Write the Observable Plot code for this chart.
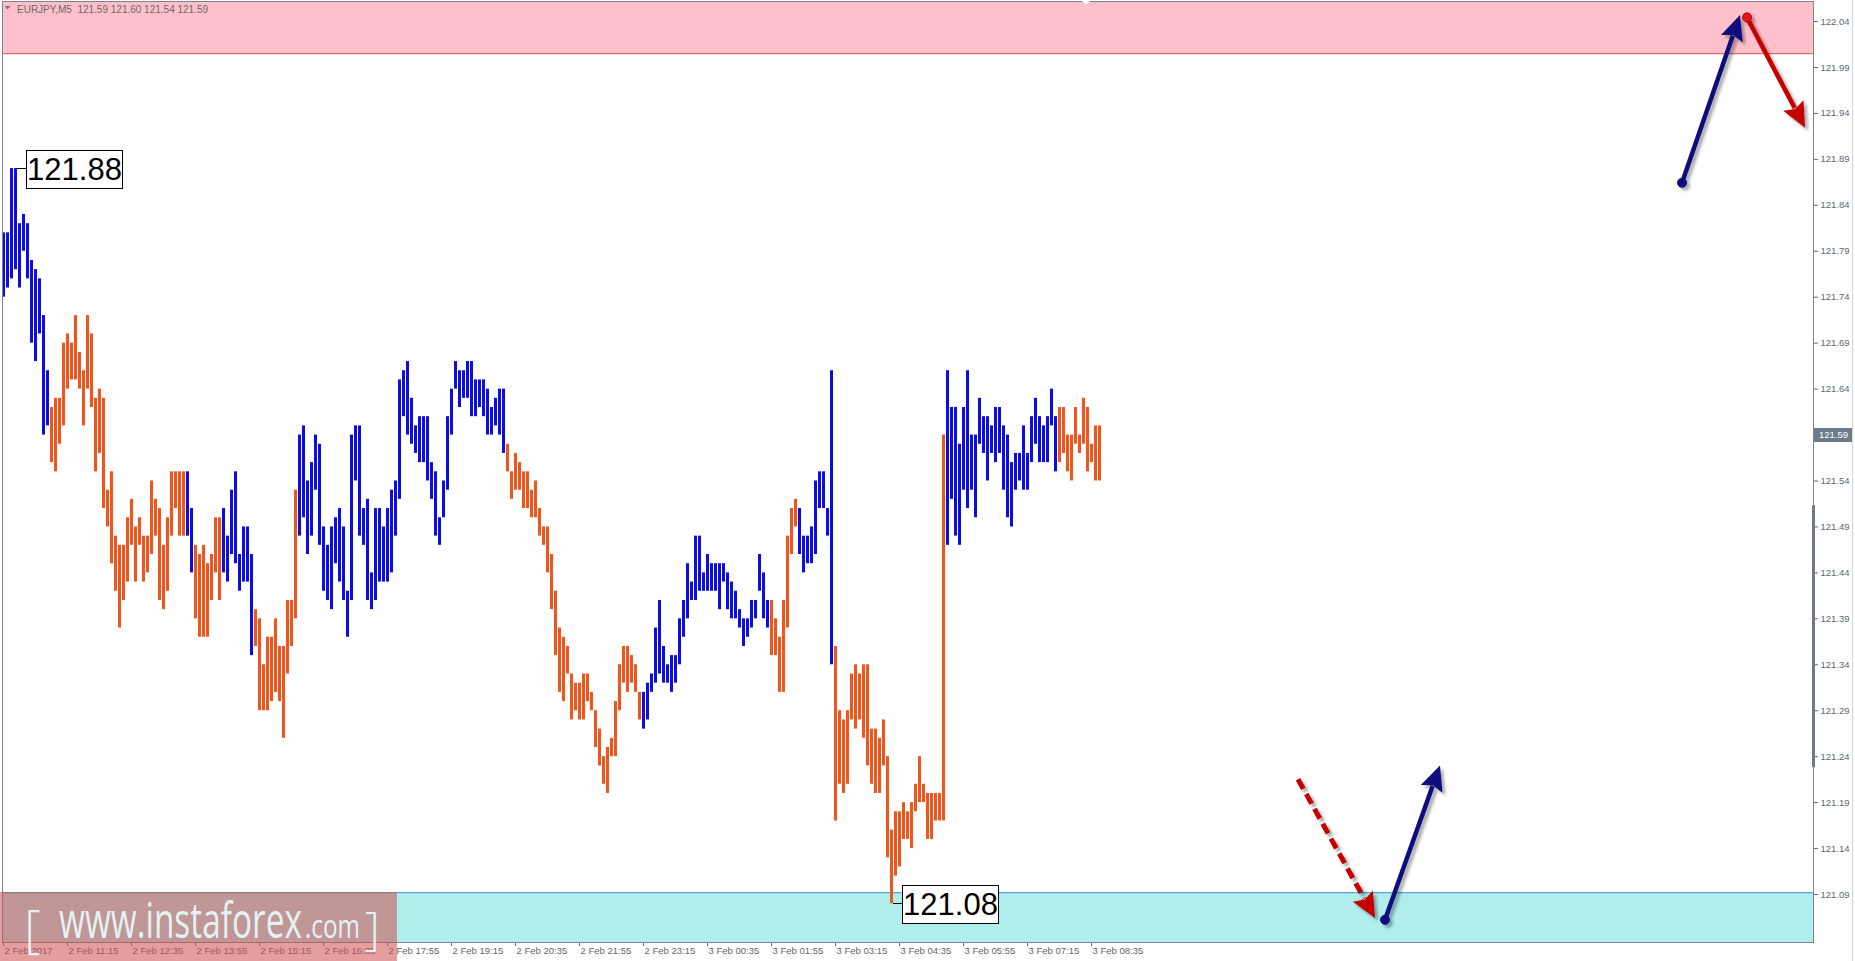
<!DOCTYPE html>
<html>
<head>
<meta charset="utf-8">
<script src="https://cdn.jsdelivr.net/npm/d3@7"></script>
<script src="https://cdn.jsdelivr.net/npm/@observablehq/plot@0.6"></script>
<style>
html, body { margin: 0; padding: 0; background: #fff; }
#chart { position: relative; width: 1855px; height: 961px; overflow: hidden; }
</style>
</head>
<body>
<div id="chart"></div>
<script>
// ---------- data (EURJPY M5, 2 Feb 2017 09:55 → 3 Feb 2017 08:45, one bar per 5 min) ----------
const highs = [
  121.81,121.81,121.88,121.88,121.82,121.83,121.82,121.78,121.77,121.76,
  121.72,121.66,121.62,121.63,121.63,121.69,121.70,121.69,121.72,121.68,
  121.66,121.72,121.70,121.63,121.64,121.63,121.53,121.55,121.48,121.47,
  121.47,121.50,121.52,121.49,121.50,121.48,121.48,121.54,121.52,121.51,
  121.47,121.50,121.55,121.55,121.55,121.55,121.55,121.51,121.47,121.46,
  121.47,121.45,121.46,121.50,121.50,121.51,121.48,121.53,121.55,121.46,
  121.49,121.49,121.46,121.40,121.39,121.34,121.37,121.37,121.39,121.36,
  121.36,121.41,121.41,121.53,121.59,121.60,121.54,121.56,121.59,121.58,
  121.49,121.47,121.49,121.50,121.51,121.49,121.42,121.59,121.60,121.60,
  121.51,121.52,121.44,121.51,121.51,121.49,121.51,121.53,121.54,121.65,
  121.66,121.67,121.63,121.60,121.61,121.61,121.61,121.56,121.55,121.50,
  121.54,121.61,121.64,121.67,121.66,121.66,121.67,121.67,121.65,121.65,
  121.65,121.64,121.62,121.63,121.64,121.64,121.58,121.55,121.57,121.56,
  121.55,121.55,121.53,121.54,121.51,121.49,121.49,121.46,121.42,121.38,
  121.37,121.36,121.33,121.32,121.32,121.33,121.33,121.31,121.29,121.27,
  121.24,121.25,121.26,121.30,121.34,121.36,121.36,121.35,121.34,121.31,
  121.31,121.32,121.33,121.38,121.41,121.36,121.34,121.35,121.35,121.39,
  121.41,121.45,121.43,121.48,121.48,121.44,121.46,121.45,121.45,121.45,
  121.45,121.44,121.43,121.42,121.40,121.39,121.39,121.41,121.41,121.46,
  121.44,121.41,121.41,121.39,121.37,121.41,121.48,121.51,121.52,121.51,
  121.48,121.48,121.49,121.54,121.55,121.55,121.51,121.66,121.36,121.29,
  121.28,121.29,121.33,121.34,121.33,121.34,121.34,121.27,121.27,121.26,
  121.28,121.24,121.16,121.18,121.18,121.19,121.18,121.19,121.21,121.24,
  121.21,121.20,121.20,121.20,121.20,121.59,121.66,121.62,121.62,121.58,
  121.62,121.66,121.59,121.59,121.63,121.61,121.61,121.60,121.62,121.62,
  121.60,121.59,121.56,121.57,121.57,121.60,121.57,121.61,121.63,121.61,
  121.60,121.61,121.64,121.61,121.62,121.62,121.59,121.59,121.62,121.59,
  121.63,121.62,121.58,121.60,121.60
];
const lows = [
  121.74,121.75,121.76,121.77,121.75,121.79,121.76,121.69,121.67,121.70,
  121.59,121.60,121.56,121.55,121.58,121.60,121.64,121.65,121.65,121.64,
  121.60,121.64,121.62,121.55,121.57,121.51,121.49,121.45,121.42,121.38,
  121.41,121.43,121.47,121.43,121.47,121.43,121.44,121.46,121.48,121.41,
  121.40,121.42,121.48,121.51,121.48,121.48,121.48,121.44,121.39,121.37,
  121.37,121.37,121.41,121.44,121.41,121.44,121.43,121.46,121.45,121.42,
  121.43,121.43,121.35,121.36,121.29,121.29,121.29,121.30,121.31,121.30,
  121.26,121.33,121.36,121.39,121.48,121.50,121.46,121.48,121.53,121.47,
  121.42,121.41,121.40,121.45,121.43,121.41,121.37,121.41,121.54,121.48,
  121.47,121.41,121.40,121.41,121.43,121.43,121.43,121.44,121.48,121.52,
  121.61,121.59,121.58,121.57,121.56,121.56,121.54,121.52,121.48,121.47,
  121.50,121.53,121.59,121.64,121.62,121.63,121.63,121.61,121.61,121.62,
  121.61,121.59,121.59,121.60,121.59,121.57,121.55,121.52,121.53,121.53,
  121.51,121.51,121.50,121.50,121.48,121.47,121.44,121.40,121.35,121.31,
  121.30,121.33,121.28,121.29,121.28,121.28,121.30,121.29,121.25,121.23,
  121.21,121.20,121.24,121.24,121.29,121.32,121.31,121.32,121.31,121.28,
  121.27,121.28,121.31,121.32,121.33,121.32,121.32,121.31,121.32,121.34,
  121.37,121.39,121.41,121.41,121.42,121.42,121.42,121.42,121.42,121.40,
  121.43,121.40,121.39,121.39,121.38,121.36,121.37,121.38,121.39,121.42,
  121.39,121.38,121.35,121.35,121.31,121.31,121.38,121.46,121.49,121.46,
  121.44,121.45,121.45,121.46,121.51,121.51,121.48,121.34,121.17,121.21,
  121.20,121.21,121.28,121.27,121.28,121.26,121.23,121.21,121.20,121.20,
  121.23,121.13,121.08,121.11,121.12,121.15,121.15,121.14,121.18,121.19,
  121.19,121.15,121.15,121.17,121.17,121.17,121.47,121.52,121.48,121.47,
  121.53,121.51,121.53,121.50,121.58,121.57,121.54,121.57,121.56,121.57,
  121.53,121.50,121.49,121.53,121.54,121.53,121.53,121.56,121.58,121.56,
  121.56,121.56,121.60,121.55,121.56,121.57,121.55,121.54,121.58,121.57,
  121.58,121.55,121.56,121.54,121.54
];
// wave direction of each run of bars: [first bar, last bar, direction]
const waveFrom = [1, 13, 47, 49, 56, 64, 75, 127, 161, 193, 200, 209, 237, 265];
const waveTo   = [12, 46, 48, 55, 63, 74, 126, 160, 192, 199, 208, 236, 264, 275];
const waveDir  = ["up","down","up","down","up","down","up","down","up","down","up","down","up","down"];

const xTickBars = [1,17,33,49,65,81,97,113,129,145,161,177,193,209,225,241,257,273];
const xTickLabels = ["2 Feb 2017","2 Feb 11:15","2 Feb 12:35","2 Feb 13:55","2 Feb 15:15","2 Feb 16:35",
  "2 Feb 17:55","2 Feb 19:15","2 Feb 20:35","2 Feb 21:55","2 Feb 23:15","3 Feb 00:35","3 Feb 01:55",
  "3 Feb 03:15","3 Feb 04:35","3 Feb 05:55","3 Feb 07:15","3 Feb 08:35"];
const yTickValues = [121.09,121.14,121.19,121.24,121.29,121.34,121.39,121.44,121.49,121.54,
  121.59,121.64,121.69,121.74,121.79,121.84,121.89,121.94,121.99,122.04];

const headerText = "EURJPY,M5  121.59 121.60 121.54 121.59";
const lastClose = 121.59;
const priceTags = [ {bar: 4, price: 121.88, text: "121.88"}, {bar: 223, price: 121.08, text: "121.08"} ];
const resistanceZone = [122.005, 122.0618];   // pink band
const supportZone = [121.0378, 121.092];      // turquoise band
const axisMarker = [121.228, 121.513];        // grey marker on the price axis
// forecast arrows: start (bar, price) → tip (bar, price)
const arrowX0 = [420.75, 437.0, 324.75, 346.5];
const arrowY0 = [121.864, 122.044, 121.215, 121.062];
const arrowX1 = [435.25, 451.5, 344.0, 360.25];
const arrowY1 = [122.0465, 121.924, 121.064, 121.230];
const arrowColor = ["#0d0d7e", "#c40000", "#c40000", "#0d0d7e"];
const arrowDashed = [false, false, true, false];
const arrowDot = [true, true, false, true];
const shiftMarkerBar = 271.75;

// ---------- build ----------
const BLUE = "#0c0ce4", ORANGE = "#f0561c";
function dirOf(i) {
  for (let k = 0; k < waveFrom.length; k++) if (i >= waveFrom[k] && i <= waveTo[k]) return waveDir[k];
  return "up";
}
const bars = highs.map((h, k) => ({i: k + 1, high: h, low: lows[k], dir: dirOf(k + 1)}));

const W = 1855, H = 961;
const plot = Plot.plot({
  width: W, height: H,
  marginLeft: 2, marginRight: 42, marginTop: 1, marginBottom: 19,
  style: {fontFamily: "'Liberation Sans', Arial, sans-serif", fontSize: "9.5px", color: "#606870", background: "#fff", overflow: "visible"},
  x: {domain: [0.75, 453.5], ticks: xTickBars, tickFormat: d => xTickLabels[xTickBars.indexOf(d)], tickSize: 4, tickPadding: 1, label: null},
  y: {domain: [supportZone[0], resistanceZone[1]], axis: "right", ticks: yTickValues, tickFormat: d => d.toFixed(2), tickSize: 4, tickPadding: 3, label: null},
  marks: [
    Plot.rect([resistanceZone], {y1: d => d[0], y2: d => d[1], fill: "#ffc0cb"}),
    Plot.ruleY([resistanceZone[0]], {stroke: "#e0464c"}),
    Plot.rect([supportZone], {y1: d => d[0], y2: d => d[1], fill: "#b0eeee"}),
    Plot.ruleY([supportZone[1]], {stroke: "#3a8ed8"}),
    Plot.ruleX(bars, {x: "i", y1: "low", y2: "high", stroke: d => d.dir === "up" ? BLUE : ORANGE, strokeWidth: 3}),
    Plot.frame({stroke: "#7c858f"}),
    Plot.ruleX([453.5], {y1: axisMarker[0], y2: axisMarker[1], stroke: "#6f7b87", strokeWidth: 3})
  ]
});
document.getElementById("chart").appendChild(plot);

const svg = d3.select(plot);
const xs = plot.scale("x"), ys = plot.scale("y");
const X = v => xs.apply(v), Y = v => ys.apply(v);

// x-axis labels start at their tick like the terminal does
svg.selectAll('g[aria-label="x-axis"] text, g[aria-label="x-axis tick label"] text')
  .attr("text-anchor", "start").attr("dx", "1");

const defs = svg.append("defs");
const f = defs.append("filter").attr("id", "ash").attr("filterUnits", "userSpaceOnUse")
  .attr("x", 0).attr("y", 0).attr("width", W).attr("height", H);
f.append("feDropShadow").attr("dx", 3).attr("dy", 3).attr("stdDeviation", 1.6)
  .attr("flood-color", "#000").attr("flood-opacity", 0.33);

const deco = svg.append("g").attr("text-anchor", "start");
const FF = "'Liberation Sans', Arial, sans-serif";

// far right light border
deco.append("line").attr("x1", W - 2.5).attr("x2", W - 2.5).attr("y1", 0).attr("y2", H)
  .attr("stroke", "#d6d6d6");

// header
deco.append("path").attr("d", "M4.5,6L10.5,6L7.5,9.5Z").attr("fill", "#777");
deco.append("text").attr("x", 17).attr("y", 12.5).attr("fill", "#6a6a6a").attr("text-anchor", "start")
  .attr("font-size", 10).attr("font-family", FF).text(headerText);

// chart shift marker
{
  const sx = X(shiftMarkerBar);
  deco.append("path").attr("d", `M${sx - 4},1L${sx + 4},1L${sx},5Z`).attr("fill", "#f6f6f6");
}

// price tags (extreme labels)
priceTags.forEach(t => {
  const bx = X(t.bar), by = Math.round(Y(t.price)) + 0.5;
  deco.append("line").attr("x1", bx + 2).attr("x2", bx + 11).attr("y1", by).attr("y2", by)
    .attr("stroke", "#000").attr("stroke-width", 1);
  deco.append("rect").attr("x", Math.round(bx + 11) + 0.5).attr("y", Math.round(by - 19) + 0.5)
    .attr("width", 96).attr("height", 38).attr("fill", "#fff").attr("stroke", "#000");
  deco.append("text").attr("x", bx + 11 + 48.5).attr("y", by + 11)
    .attr("text-anchor", "middle").attr("font-size", 31)
    .attr("font-family", FF).attr("fill", "#000").text(t.text);
});

// current price tag on axis
{
  const py = Y(lastClose);
  deco.append("rect").attr("x", 1814).attr("y", Math.round(py - 7)).attr("width", 38).attr("height", 14)
    .attr("fill", "#6c7a89");
  deco.append("text").attr("x", 1819).attr("y", py + 3.5).attr("fill", "#fff").attr("font-size", 9.5)
    .attr("text-anchor", "start").attr("font-family", FF).text(lastClose.toFixed(2));
}

// forecast arrows
arrowX0.forEach((_, k) => {
  const x0 = X(arrowX0[k]), y0 = Y(arrowY0[k]), x1 = X(arrowX1[k]), y1 = Y(arrowY1[k]);
  const dx = x1 - x0, dy = y1 - y0, L = Math.hypot(dx, dy), ux = dx / L, uy = dy / L, nx = -uy, ny = ux;
  const hl = 25, hw = 11.5;
  const bx = x1 - ux * hl, by = y1 - uy * hl;
  const g = deco.append("g").attr("filter", "url(#ash)");
  const line = g.append("line").attr("x1", x0).attr("y1", y0).attr("x2", bx + ux * 3).attr("y2", by + uy * 3)
    .attr("stroke", arrowColor[k]).attr("stroke-width", arrowDashed[k] ? 5 : 4.5);
  if (arrowDashed[k]) line.attr("stroke-dasharray", "11,6");
  g.append("path").attr("d", `M${x1},${y1}L${bx + nx * hw},${by + ny * hw}L${bx + ux * 4},${by + uy * 4}L${bx - nx * hw},${by - ny * hw}Z`)
    .attr("fill", arrowColor[k]);
  if (arrowDot[k]) {
    g.append("circle").attr("cx", x0).attr("cy", y0).attr("r", 4.5)
      .attr("fill", arrowColor[k] === "#c40000" ? "#e01818" : arrowColor[k])
      .attr("stroke", arrowColor[k]).attr("stroke-width", 1);
  }
});

// watermark
{
  const wm = deco.append("g").attr("text-anchor", "start");
  wm.append("rect").attr("x", 0).attr("y", 892).attr("width", 397).attr("height", H - 892)
    .attr("fill", "rgba(205,78,78,0.55)");
  const ff = "'Open Sans', 'Liberation Sans', Arial, sans-serif";
  wm.append("text").attr("x", 24).attr("y", 947).attr("font-size", 52).attr("font-weight", 300)
    .attr("text-anchor", "start").attr("font-family", ff).attr("fill", "#e3f3f3").text("[");
  wm.append("text").attr("x", 59).attr("y", 938).attr("font-size", 50)
    .attr("text-anchor", "start").attr("font-family", ff).attr("fill", "#e3f3f3")
    .attr("textLength", 243).attr("lengthAdjust", "spacingAndGlyphs").text("www.instaforex");
  wm.append("text").attr("x", 305).attr("y", 938).attr("font-size", 32)
    .attr("text-anchor", "start").attr("font-family", ff).attr("fill", "#e3f3f3")
    .attr("textLength", 55).attr("lengthAdjust", "spacingAndGlyphs").text(".com");
  wm.append("text").attr("x", 365).attr("y", 945).attr("font-size", 46).attr("font-weight", 300)
    .attr("text-anchor", "start").attr("font-family", ff).attr("fill", "#e3f3f3").text("]");
}
</script>
</body>
</html>
